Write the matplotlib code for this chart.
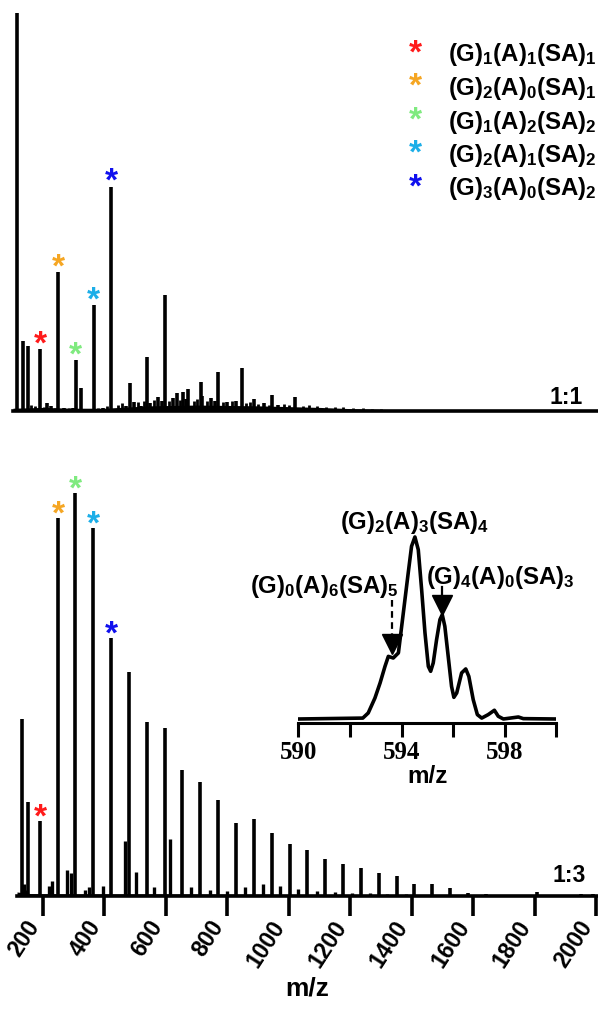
import matplotlib
matplotlib.use("Agg")
import matplotlib.pyplot as plt
import matplotlib.transforms as mtransforms

plt.rcParams['font.family'] = ['Liberation Sans', 'DejaVu Sans']
plt.rcParams['font.weight'] = 'bold'
plt.rcParams['mathtext.fontset'] = 'custom'
plt.rcParams['mathtext.rm'] = 'Liberation Sans:bold'
plt.rcParams['mathtext.it'] = 'Liberation Sans:bold'
plt.rcParams['mathtext.bf'] = 'Liberation Sans:bold'
plt.rcParams['mathtext.default'] = 'bf'

# ---- 1:1 spectrum (relative intensity, tallest = 100) ----
mz_11 = [117, 135, 153, 192, 215, 228, 250, 269, 299, 307, 325, 365, 394, 423,
         470, 482, 498, 519, 539, 548, 573, 587, 598, 622, 636, 655, 665, 671,
         713, 719, 746, 761, 771, 800, 829, 846, 885, 920, 944, 963, 1020]
int_11 = [100, 17.5, 16.3, 15.5, 2.0, 1.3, 34.8, 0.8, 0.8, 12.8, 5.8, 26.6, 0.8, 56.4,
          1.3, 7.0, 2.3, 1.3, 13.5, 2.0, 3.5, 2.5, 29.1, 3.3, 4.5, 4.8, 3.0, 5.5,
          7.3, 3.8, 3.3, 2.5, 9.8, 2.3, 2.5, 10.8, 3.0, 2.0, 4.0, 1.5, 3.5]
# small grass peaks along the baseline
grass_mz_11 = [160, 175, 205, 240, 285, 340, 380, 410, 445, 458, 510, 530, 560,
               610, 645, 690, 700, 735, 785, 815, 860, 875, 900, 935, 985, 1000,
               1045, 1065, 1090, 1120, 1150, 1175, 1210, 1240, 1270, 1300]
grass_11 = [1.5, 1.2, 1.0, 0.8, 0.8, 0.6, 0.8, 1.2, 1.5, 2.0, 2.2, 2.5, 2.8,
            2.6, 2.8, 2.4, 3.0, 2.6, 2.2, 2.4, 2.0, 2.3, 1.8, 1.6, 1.8, 1.5,
            1.3, 1.6, 1.2, 1.0, 1.1, 0.9, 0.8, 0.7, 0.6, 0.5]
noise_mz_11 = [103, 200, 300, 400, 450, 550, 700, 900, 1000, 1100, 1200, 1300, 1500, 2005]
noise_11 = [0.7, 0.9, 0.7, 0.7, 0.9, 1.3, 1.5, 1.3, 1.1, 0.9, 0.6, 0.4, 0.2, 0.1]

# ---- 1:3 spectrum (relative intensity, tallest = 100) ----
mz_13 = [133, 152, 190, 248, 306, 364, 422, 480, 538, 596, 654, 712, 770, 828,
         886, 944, 1002, 1060, 1118, 1176, 1234, 1292, 1350, 1408, 1466, 1524,
         1582, 1640, 1806, 1950, 1990]
int_13 = [43.9, 23.4, 18.7, 93.8, 100, 91.3, 64.1, 55.6, 43.1, 41.6, 31.2, 28.4, 23.9, 18.2,
          19.0, 15.7, 13.0, 11.5, 9.2, 8.0, 7.0, 5.7, 5.0, 3.0, 3.0, 2.0,
          0.8, 0.4, 1.0, 0.5, 0.6]
minor_mz_13 = [138, 145, 221, 229, 278, 291, 336, 350, 394, 468, 503, 561, 612, 683, 742,
               800, 857, 915, 972, 1030, 1090, 1150, 1205, 1265, 1320, 1380]
minor_13 = [3.0, 1.5, 2.5, 3.7, 6.5, 5.7, 1.5, 2.2, 2.5, 13.7, 6.0, 2.2, 14.2, 2.2, 1.5,
            1.2, 2.2, 3.0, 2.5, 1.7, 1.2, 1.0, 0.8, 0.7, 0.6, 0.5]
noise_mz_13 = [116, 160, 300, 600, 1000, 1400, 2005]
noise_13 = [1.0, 0.6, 0.5, 0.5, 0.4, 0.3, 0.2]

# ---- starred peaks ----
star_mz = [192, 250, 307, 365, 423]
star_colors = ['#FF1A1A', '#F5A623', '#7FEA7F', '#1CAEE8', '#1010EE']
star_labels = [r'(G)$_1$(A)$_1$(SA)$_1$', r'(G)$_2$(A)$_0$(SA)$_1$',
               r'(G)$_1$(A)$_2$(SA)$_2$', r'(G)$_2$(A)$_1$(SA)$_2$',
               r'(G)$_3$(A)$_0$(SA)$_2$']
star_int_11 = [15.5, 34.8, 12.8, 26.6, 56.4]
star_int_13 = [18.7, 93.8, 100, 91.3, 64.1]

# ---- inset: zoom around m/z 594 (1:3) ----
inset_mz = [590.0, 592.5, 592.71, 592.97, 593.17, 593.36, 593.49, 593.68, 593.88,
            594.07, 594.26, 594.39, 594.52, 594.65, 594.78, 594.91, 595.04, 595.13,
            595.23, 595.36, 595.49, 595.58, 595.68, 595.81, 595.94, 596.03, 596.14,
            596.33, 596.49, 596.61, 596.78, 596.94, 597.11, 597.36, 597.6, 597.75,
            597.95, 598.53, 598.72, 600.0]
inset_int = [0, 0.5, 3.3, 11.5, 19.8, 28.9, 34.4, 33.5, 36.3,
             58.2, 80.2, 94.9, 100, 93.0, 71.1, 47.3, 28.9, 26.2,
             30.8, 43.6, 54.6, 57.3, 50.9, 34.4, 17.9, 11.9, 14.3,
             25.3, 27.5, 23.4, 10.6, 2.4, 0.5, 2.4, 4.8, 1.5,
             0, 1.1, 0.2, 0]

fig = plt.figure(figsize=(5.98, 10.10), dpi=100)
W, H = 598.0, 1010.0
ax1 = fig.add_axes([13 / W, 1 - 411 / H, 585 / W, 401 / H])
ax2 = fig.add_axes([17 / W, 1 - 896 / H, 581 / W, 426 / H])
ax3 = fig.add_axes([298.3 / W, 1 - 723 / H, 258 / W, 223 / H])

for ax in [ax1, ax2]:
    for s in ['top', 'right', 'left']:
        ax.spines[s].set_visible(False)
    ax.spines['bottom'].set_linewidth(2.6)
    ax.set_yticks([])

# top panel
ax1.fill_between(noise_mz_11, 0, noise_11, color='black', lw=0)
ax1.vlines(grass_mz_11, 0, grass_11, color='black', lw=2.0)
ax1.vlines(mz_11, 0, int_11, color='black', lw=2.6)
ax1.set_xlim(103, 2005)
ax1.set_ylim(0, 100.75)
ax1.set_xticks([])
for mz, h, c in zip(star_mz, star_int_11, star_colors):
    ax1.annotate('*', xy=(mz, h), xytext=(0, -8), textcoords='offset points',
                 ha='center', va='bottom', color=c, fontsize=24, fontweight='bold')
for i, (lab, c) in enumerate(zip(star_labels, star_colors)):
    y = 55 + i * 33.5
    fig.text(415 / W, 1 - (y - 1) / H, '*', color=c, fontsize=24, fontweight='bold',
             ha='center', va='center')
    fig.text(448 / W, 1 - y / H, lab, fontsize=17.3, fontweight='bold',
             ha='left', va='center')
fig.text(583 / W, 1 - 397 / H, '1:1', fontsize=16.5, fontweight='bold',
         ha='right', va='center')

# bottom panel
ax2.fill_between(noise_mz_13, 0, noise_13, color='black', lw=0)
ax2.vlines(minor_mz_13, 0, minor_13, color='black', lw=2.4)
ax2.vlines(mz_13, 0, int_13, color='black', lw=2.6)
ax2.set_xlim(116, 2005)
ax2.set_ylim(0, 105.7)
ax2.set_xticks(range(200, 2001, 200))
ax2.tick_params(axis='x', direction='out', length=14.5, width=2.6, pad=9, labelsize=16.5)
shift = mtransforms.ScaledTranslation(1 / 100, 0, fig.dpi_scale_trans)
for lbl in ax2.get_xticklabels():
    lbl.set_rotation(57)
    lbl.set_rotation_mode('anchor')
    lbl.set_ha('right')
    lbl.set_va('bottom')
    lbl.set_fontweight('bold')
    lbl.set_transform(lbl.get_transform() + shift)
ax2.set_xlabel('m/z', fontsize=19, fontweight='bold', labelpad=4)
for mz, h, c in zip(star_mz, star_int_13, star_colors):
    ax2.annotate('*', xy=(mz, h), xytext=(0, -9), textcoords='offset points',
                 ha='center', va='bottom', color=c, fontsize=24, fontweight='bold')
fig.text(586 / W, 1 - 875 / H, '1:3', fontsize=16.5, fontweight='bold',
         ha='right', va='center')

# inset
for s in ['top', 'right', 'left']:
    ax3.spines[s].set_visible(False)
ax3.spines['bottom'].set_linewidth(2.2)
ax3.patch.set_alpha(0)
ax3.plot(inset_mz, inset_int, color='black', lw=2.6)
ax3.set_xlim(590, 600)
ax3.set_ylim(-2.2, 120.3)
ax3.set_yticks([])
ax3.set_xticks([590, 592, 594, 596, 598, 600])
ax3.set_xticklabels(['590', '', '594', '', '598', ''], family='Liberation Serif',
                    fontweight='bold', fontsize=18)
ax3.tick_params(axis='x', direction='out', length=10, width=2.2, pad=3)
ax3.set_xlabel('m/z', fontsize=17.5, fontweight='bold', labelpad=1)

ax3.text(594.52, 107.7, r'(G)$_2$(A)$_3$(SA)$_4$', fontsize=17.3, fontweight='bold',
         ha='center', va='center')
ax3.text(593.9, 73, r'(G)$_0$(A)$_6$(SA)$_5$', fontsize=17.3, fontweight='bold',
         ha='right', va='center')
ax3.text(594.95, 78, r'(G)$_4$(A)$_0$(SA)$_3$', fontsize=17.3, fontweight='bold',
         ha='left', va='center')
# arrows
ax3.plot([593.62, 593.62], [65.4, 45], color='black', lw=1.6, ls=(0, (3, 2)))
ax3.plot([593.62], [41.2], marker='v', color='black', markersize=14)
ax3.plot([595.57, 595.57], [72.5, 67], color='black', lw=1.6)
ax3.plot([595.57], [62.6], marker='v', color='black', markersize=14)

fig.savefig('out.png', dpi=100)
